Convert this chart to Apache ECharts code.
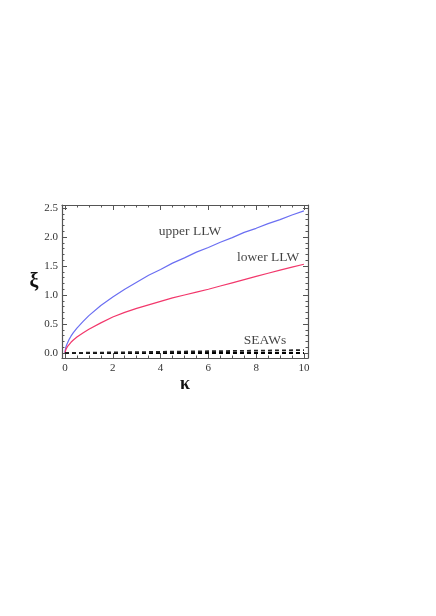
<!DOCTYPE html>
<html>
<head>
<meta charset="utf-8">
<script src="https://cdn.jsdelivr.net/npm/echarts@6/dist/echarts.min.js"></script>
<style>html,body{margin:0;padding:0;background:#fff}#c{width:436px;height:616px}</style>
</head>
<body>
<div id="c"></div>
<script>
// data
var kappa      = [0, 0.01, 0.03, 0.06, 0.1, 0.18, 0.25, 0.35, 0.5, 0.75, 1, 1.5, 2, 2.5, 3, 3.5, 4, 4.5, 5, 5.5, 6, 6.5, 7, 7.5, 8, 8.5, 9, 9.5, 10];
var upperLLW   = [0, 0.05, 0.09, 0.13, 0.17, 0.24, 0.29, 0.35, 0.43, 0.54, 0.645, 0.82, 0.965, 1.10, 1.22, 1.34, 1.44, 1.55, 1.64, 1.74, 1.82, 1.91, 1.99, 2.08, 2.15, 2.23, 2.30, 2.38, 2.45];
var lowerLLW   = [0, 0.03, 0.05, 0.08, 0.11, 0.15, 0.185, 0.225, 0.275, 0.345, 0.41, 0.52, 0.62, 0.70, 0.77, 0.83, 0.89, 0.95, 1.00, 1.05, 1.10, 1.155, 1.21, 1.265, 1.32, 1.375, 1.43, 1.48, 1.53];
var seawKappa  = [0, 2, 4, 6, 8, 10];
var seawA      = [0, 0, 0, 0, 0, 0];
var seawB      = [0, 0.01, 0.02, 0.03, 0.04, 0.05];
var xMajorTicks = [0, 2, 4, 6, 8, 10];
var xMinorTicks = [0.5, 1, 1.5, 2.5, 3, 3.5, 4.5, 5, 5.5, 6.5, 7, 7.5, 8.5, 9, 9.5];
var yMajorTicks = [0, 0.5, 1, 1.5, 2, 2.5];
var yMinorTicks = [0.1,0.2,0.3,0.4,0.6,0.7,0.8,0.9,1.1,1.2,1.3,1.4,1.6,1.7,1.8,1.9,2.1,2.2,2.3,2.4];
var annoNames  = ['upper LLW', 'lower LLW', 'SEAWs'];
var annoX      = [5.23, 8.5, 8.37];
var annoY      = [2.09, 1.64, 0.21];

function pairs(xs, ys){ return xs.map(function(x,i){ return [x, ys[i]]; }); }

var X_MIN = -0.125, X_MAX = 10.17, Y_MIN = -0.086, Y_MAX = 2.552;
var frameColor = '#555';
var serif = '"Liberation Serif", "DejaVu Serif", serif';

function xAx(pos, ticks, len, showLine, showLabel, extra){
  var a = {
    type: 'value', min: X_MIN, max: X_MAX, position: pos,
    splitLine: {show: false},
    axisLine: {show: showLine, onZero: false, lineStyle: {color: frameColor, width: 1.2}},
    axisTick: {show: true, inside: true, length: len, customValues: ticks, lineStyle: {color: frameColor, width: 1}},
    axisLabel: {show: showLabel, customValues: ticks, fontFamily: serif, fontSize: 11, color: '#333', margin: 5,
                formatter: function(v){ return String(v); }}
  };
  return Object.assign(a, extra || {});
}
function yAx(pos, ticks, len, showLine, showLabel, extra){
  var a = {
    type: 'value', min: Y_MIN, max: Y_MAX, position: pos,
    splitLine: {show: false},
    axisLine: {show: showLine, onZero: false, lineStyle: {color: frameColor, width: 1.2}},
    axisTick: {show: true, inside: true, length: len, customValues: ticks, lineStyle: {color: frameColor, width: 1}},
    axisLabel: {show: showLabel, customValues: ticks, fontFamily: serif, fontSize: 11, color: '#333', margin: 4,
                formatter: function(v){ return v.toFixed(1); }}
  };
  return Object.assign(a, extra || {});
}

var chart = echarts.init(document.getElementById('c'), null, {renderer: 'canvas'});
chart.setOption({
  animation: false,
  backgroundColor: '#fff',
  grid: {left: 62, right: 128, top: 205, bottom: 258, containLabel: false},
  xAxis: [
    xAx('bottom', xMajorTicks, 5, true, true, {name: 'κ', nameLocation: 'middle', nameGap: 3,
        nameTextStyle: {fontFamily: serif, fontSize: 18, fontWeight: 'bold', color: '#111'}}),
    xAx('bottom', xMinorTicks, 2.5, false, false),
    xAx('top', xMajorTicks, 5, true, false),
    xAx('top', xMinorTicks, 2.5, false, false)
  ],
  yAxis: [
    yAx('left', yMajorTicks, 5, true, true, {name: 'ξ', nameLocation: 'middle', nameGap: 17, nameRotate: 0,
        nameTextStyle: {fontFamily: serif, fontSize: 20, fontWeight: 'bold', color: '#111'}}),
    yAx('left', yMinorTicks, 2.5, false, false),
    yAx('right', yMajorTicks, 5, true, false),
    yAx('right', yMinorTicks, 2.5, false, false)
  ],
  series: [
    {type: 'line', name: 'upper LLW', data: pairs(kappa, upperLLW), smooth: false, showSymbol: false,
     lineStyle: {color: '#6b6ff2', width: 1.2}},
    {type: 'line', name: 'lower LLW', data: pairs(kappa, lowerLLW), smooth: false, showSymbol: false,
     lineStyle: {color: '#f2386c', width: 1.2}},
    {type: 'line', name: 'SEAWs a', data: pairs(seawKappa, seawA), showSymbol: false,
     lineStyle: {color: '#000', width: 1.8, type: [4, 3]}},
    {type: 'line', name: 'SEAWs b', data: pairs(seawKappa, seawB), showSymbol: false,
     lineStyle: {color: '#222', width: 1.8, type: [4, 3]}},
    {type: 'scatter', name: 'annotations', symbolSize: 0,
     data: annoNames.map(function(n,i){ return {name: n, value: [annoX[i], annoY[i]]}; }),
     label: {show: true, position: 'inside', formatter: '{b}', fontFamily: serif, fontSize: 13.5, color: '#111'}}
  ]
});
</script>
</body>
</html>
